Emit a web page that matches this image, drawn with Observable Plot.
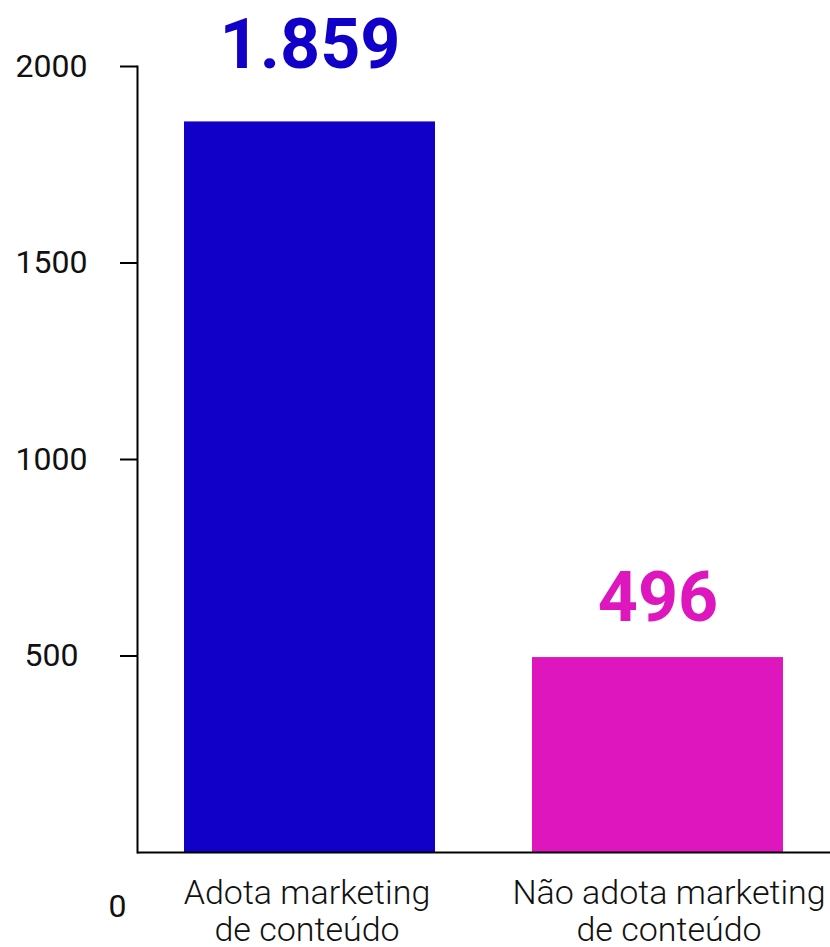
<!DOCTYPE html>
<html>
<head>
<meta charset="utf-8">
<script src="https://cdn.jsdelivr.net/npm/d3@7"></script>
<script src="https://cdn.jsdelivr.net/npm/@observablehq/plot@0.6"></script>
<style>
  html, body { margin: 0; padding: 0; background: #fff; }
  svg { display: block; font-family: Roboto, "Noto Sans", sans-serif; }
</style>
</head>
<body>
<div id="chart"></div>
<script>
const categories = ["Adota marketing\nde conteúdo", "Não adota marketing\nde conteúdo"];
const values = [1859, 496];
const valueLabels = ["1.859", "496"];
const colors = ["#1000C8", "#DE16BE"];
const yTicks = [500, 1000, 1500, 2000];
const zeroLabel = ["0"];

const data = categories.map((c, i) => ({ category: c, value: values[i], label: valueLabels[i], color: colors[i] }));

const xAxisStyle = { tickSize: 0, tickPadding: 25, fontSize: 34, fontWeight: 300, fill: "#111", lineHeight: 1.09, label: null, tickFormat: d => d };

const chart = Plot.plot({
  width: 830,
  height: 947,
  marginLeft: 137,
  marginRight: 0,
  marginTop: 66,
  marginBottom: 95,
  style: { fontFamily: "Roboto, 'Noto Sans', sans-serif", background: "#fff", overflow: "visible" },
  x: { domain: categories, paddingInner: 0.28, paddingOuter: 0.135 },
  y: { domain: [0, 2000] },
  marks: [
    Plot.barY(data, { x: "category", y: "value", fill: "color" }),
    Plot.ruleY([0], { stroke: "#000", strokeWidth: 2 }),
    Plot.frame({ anchor: "left", stroke: "#000", strokeWidth: 2 }),
    Plot.axisY({ ticks: yTicks, tickSize: 17, tickPadding: 69, textAnchor: "middle", fontSize: 32, fill: "#111", stroke: "#000", strokeWidth: 2, tickFormat: d => String(d), label: null }),
    Plot.text(zeroLabel, { y: 0, text: d => d, frameAnchor: "left", dx: -20, dy: 54, fontSize: 32, fill: "#111", textAnchor: "middle" }),
    Plot.axisX({ ...xAxisStyle, ticks: [categories[0]], dx: -3 }),
    Plot.axisX({ ...xAxisStyle, ticks: [categories[1]], dx: 11 }),
    Plot.text(data.slice(0, 1), { x: "category", y: "value", text: "label", fill: "color", fontSize: 70, fontWeight: 700, dy: -54, lineAnchor: "bottom" }),
    Plot.text(data.slice(1), { x: "category", y: "value", text: "label", fill: "color", fontSize: 70, fontWeight: 700, dy: -37, lineAnchor: "bottom" })
  ]
});
document.getElementById("chart").appendChild(chart);
</script>
</body>
</html>
